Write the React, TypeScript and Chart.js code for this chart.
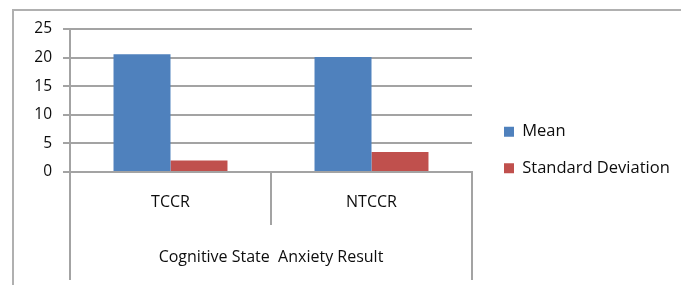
import { useEffect, useRef } from 'react';
import { Chart, registerables } from 'chart.js';

Chart.register(...registerables);

const categories = ['TCCR', 'NTCCR'];
const groupTitle = 'Cognitive State  Anxiety Result';
const seriesNames = ['Mean', 'Standard Deviation'];
const meanValues = [20.6, 20.1];
const sdValues = [2.0, 3.5];
const yTicks = [0, 5, 10, 15, 20, 25];

const seriesColors = ['#4F81BD', '#C0504D'];
const GRID = '#a3a3a3';
const TEXT = '#0d0d0d';
const FONT = "'Open Sans', sans-serif";

const groupLines = {
  id: 'groupLines',
  afterDraw(chart: any) {
    const x = chart.scales.x;
    const { ctx, chartArea } = chart;
    ctx.save();
    ctx.strokeStyle = GRID;
    ctx.lineWidth = 2;
    const bottom = chart.height - 5;
    [x.left, x.right].forEach((px: number) => {
      ctx.beginPath();
      ctx.moveTo(px, chartArea.bottom);
      ctx.lineTo(px, bottom);
      ctx.stroke();
    });
    ctx.restore();
  },
};

const fixedLegend = {
  id: 'fixedLegend',
  beforeLayout(chart: any) {
    const lg = chart.legend;
    if (lg && !lg._fixedWidth) {
      const orig = lg.fit;
      lg.fit = function (this: any) {
        orig.call(this);
        const mw = this.options.maxWidth;
        if (mw) this.width = mw;
      };
      lg._fixedWidth = true;
    }
  },
};

export default function App() {
  const ref = useRef<HTMLCanvasElement | null>(null);

  useEffect(() => {
    if (!ref.current) return;
    const chart = new Chart(ref.current, {
      type: 'bar',
      data: {
        labels: categories,
        datasets: [
          {
            label: seriesNames[0],
            data: meanValues,
            backgroundColor: seriesColors[0],
            borderWidth: 0,
            categoryPercentage: 0.567,
            barPercentage: 1,
          },
          {
            label: seriesNames[1],
            data: sdValues,
            backgroundColor: seriesColors[1],
            borderWidth: 0,
            categoryPercentage: 0.567,
            barPercentage: 1,
          },
        ],
      },
      options: {
        responsive: false,
        animation: false,
        devicePixelRatio: 1,
        layout: { padding: { top: 29, right: 0, bottom: 14, left: 0 } },
        scales: {
          x: {
            grid: {
              display: true,
              drawOnChartArea: false,
              drawTicks: true,
              tickLength: 53,
              color: GRID,
              lineWidth: 2,
              offset: true,
            },
            border: { display: true, color: GRID, width: 2 },
            ticks: { padding: -32, color: TEXT, font: { family: FONT, size: 16 } },
            title: {
              display: true,
              text: groupTitle,
              color: TEXT,
              font: { family: FONT, size: 16 },
              padding: { top: 0, bottom: 4 },
            },
            afterFit(s: any) {
              s.height = 99;
            },
          },
          y: {
            min: yTicks[0],
            max: yTicks[yTicks.length - 1],
            ticks: {
              stepSize: yTicks[1] - yTicks[0],
              padding: 11,
              color: TEXT,
              font: { family: FONT, size: 15.5 },
            },
            grid: { color: GRID, lineWidth: 2, tickLength: 7, drawTicks: true },
            border: { display: true, color: GRID, width: 2 },
            afterFit(s: any) {
              s.width = 70;
            },
          },
          y2: {
            position: 'right',
            display: true,
            grid: { display: false },
            border: { display: false },
            ticks: { display: false },
            afterFit(s: any) {
              s.width = 12;
            },
          },
        },
        plugins: {
          legend: {
            position: 'right',
            align: 'center',
            maxWidth: 197,
            labels: {
              boxWidth: 10,
              boxHeight: 10,
              padding: 20,
              color: TEXT,
              font: { family: FONT, size: 16.5 },
            },
          },
          tooltip: { enabled: false },
        },
      } as any,
      plugins: [groupLines, fixedLegend],
    });
    return () => chart.destroy();
  }, []);

  return (
    <div
      style={{
        position: 'fixed',
        left: 0,
        top: 0,
        width: 681,
        height: 285,
        background: '#fff',
        overflow: 'hidden',
      }}
    >
      <div
        style={{
          position: 'absolute',
          left: 12,
          top: 9,
          width: 700,
          height: 300,
          borderTop: '2px solid #b0b0b0',
          borderLeft: '2px solid #b0b0b0',
        }}
      />
      <canvas
        ref={ref}
        width={681}
        height={285}
        style={{ position: 'absolute', left: 0, top: 0, width: 681, height: 285 }}
      />
    </div>
  );
}
